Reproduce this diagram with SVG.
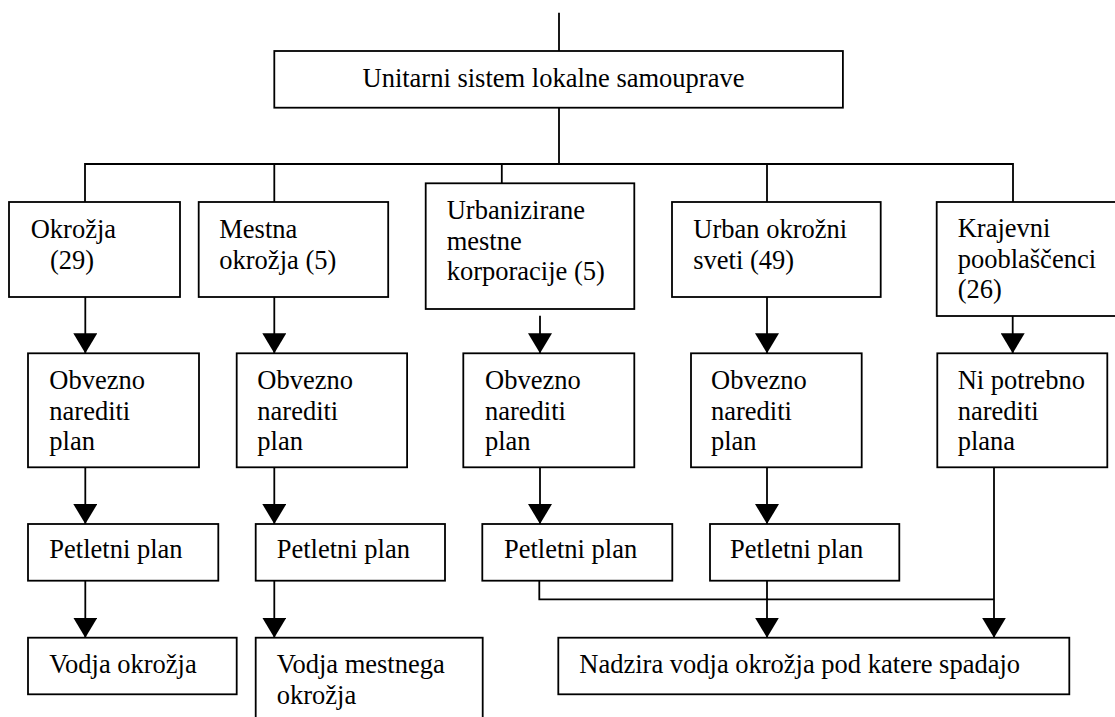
<svg xmlns="http://www.w3.org/2000/svg" width="1115" height="717" viewBox="0 0 1115 717" font-family="'Liberation Serif', 'DejaVu Serif', 'Times New Roman', serif">
  <style>
    .box { fill: #fff; stroke: #000; stroke-width: 1.8; }
    text { font-family: 'Liberation Serif', 'DejaVu Serif', 'Times New Roman', serif; font-size: 26.5px; fill: #000; }
    .wire { fill: none; stroke: #000; stroke-width: 1.8; }
    .arr { fill: none; stroke: #000; stroke-width: 1.8; marker-end: url(#head); }
  </style>
  <defs>
    <marker id="head" markerUnits="userSpaceOnUse" markerWidth="20" markerHeight="24" refX="20" refY="12" orient="auto" viewBox="0 0 20 24">
      <path d="M0,0 L20,12 L0,24 Z" fill="#000"/>
    </marker>
  </defs>
  <rect width="1115" height="717" fill="#fff"/>

  <!-- connectors -->
  <g id="connectors">
    <path class="wire" d="M559,12.7 V51"/>
    <path class="wire" d="M559,107.7 V164 M85,202 V164 H1013 V202 M274.3,164 V202 M501.8,164 V183.3 M767,164 V202"/>
    <!-- level 1 to plan requirement -->
    <path class="arr" d="M85.3,297 V353.3"/>
    <path class="arr" d="M274.3,297 V353.3"/>
    <path class="arr" d="M540,315.7 V353.3"/>
    <path class="arr" d="M767,297 V353.3"/>
    <path class="arr" d="M1012.7,316 V353.3"/>
    <!-- plan requirement to five-year plan -->
    <path class="arr" d="M85.3,467.3 V524"/>
    <path class="arr" d="M274.3,467.3 V524"/>
    <path class="arr" d="M540,467.3 V524"/>
    <path class="arr" d="M767,467.3 V524"/>
    <!-- five-year plan to supervision -->
    <path class="arr" d="M85.3,580.7 V637.7"/>
    <path class="arr" d="M274.3,580.7 V637.7"/>
    <path class="wire" d="M539.3,580.7 V599.3 H994"/>
    <path class="arr" d="M767,580.7 V637.7"/>
    <path class="arr" d="M994,467.3 V637.7"/>
  </g>

  <g id="root">
    <rect class="box" x="274.3" y="51" width="568.6" height="56.7"/>
    <text x="362.5" y="87.3">Unitarni sistem lokalne samouprave</text>
  </g>

  <g id="okrozja">
    <rect class="box" x="9" y="202" width="171" height="95"/>
    <text x="30.7" y="237.5">Okrožja</text>
    <text x="50" y="269.3">(29)</text>
  </g>
  <g id="mestna-okrozja">
    <rect class="box" x="198.7" y="202" width="189.5" height="95"/>
    <text x="219.3" y="237.5">Mestna</text>
    <text x="219.3" y="269.3">okrožja (5)</text>
  </g>
  <g id="urbanizirane">
    <rect class="box" x="425.7" y="183.3" width="208.6" height="125.7"/>
    <text x="446.7" y="219.3">Urbanizirane</text>
    <text x="446.7" y="249.5">mestne</text>
    <text x="446.7" y="280">korporacije (5)</text>
  </g>
  <g id="urban-sveti">
    <rect class="box" x="672" y="202" width="208.7" height="95"/>
    <text x="693.3" y="237.5">Urban okrožni</text>
    <text x="693.3" y="269.3">sveti (49)</text>
  </g>
  <g id="krajevni">
    <rect class="box" x="936.7" y="202" width="180" height="114"/>
    <text x="957.7" y="237">Krajevni</text>
    <text x="957.7" y="267.7">pooblaščenci</text>
    <text x="957.7" y="298.3">(26)</text>
  </g>

  <g id="obvezno-1">
    <rect class="box" x="28" y="353.3" width="171" height="114"/>
    <text x="49.3" y="389.3">Obvezno</text>
    <text x="49.3" y="419.5">narediti</text>
    <text x="49.3" y="449.5">plan</text>
  </g>
  <g id="obvezno-2">
    <rect class="box" x="236.7" y="353.3" width="170.4" height="114"/>
    <text x="257.3" y="389.3">Obvezno</text>
    <text x="257.3" y="419.5">narediti</text>
    <text x="257.3" y="449.5">plan</text>
  </g>
  <g id="obvezno-3">
    <rect class="box" x="463.3" y="353.3" width="171" height="114"/>
    <text x="485" y="389.3">Obvezno</text>
    <text x="485" y="419.5">narediti</text>
    <text x="485" y="449.5">plan</text>
  </g>
  <g id="obvezno-4">
    <rect class="box" x="691" y="353.3" width="170.7" height="114"/>
    <text x="711" y="389.3">Obvezno</text>
    <text x="711" y="419.5">narediti</text>
    <text x="711" y="449.5">plan</text>
  </g>
  <g id="ni-potrebno">
    <rect class="box" x="937.3" y="353.3" width="170" height="114"/>
    <text x="957.7" y="389.3">Ni potrebno</text>
    <text x="957.7" y="419.5">narediti</text>
    <text x="957.7" y="449.5">plana</text>
  </g>

  <g id="petletni-1">
    <rect class="box" x="28" y="524" width="190.3" height="56.7"/>
    <text x="49.3" y="558.3">Petletni plan</text>
  </g>
  <g id="petletni-2">
    <rect class="box" x="255.7" y="524" width="189.3" height="56.7"/>
    <text x="276.7" y="558.3">Petletni plan</text>
  </g>
  <g id="petletni-3">
    <rect class="box" x="482.3" y="524" width="190" height="56.7"/>
    <text x="504" y="558.3">Petletni plan</text>
  </g>
  <g id="petletni-4">
    <rect class="box" x="710" y="524" width="189.3" height="56.7"/>
    <text x="730" y="558.3">Petletni plan</text>
  </g>

  <g id="vodja-okrozja">
    <rect class="box" x="28" y="637.7" width="208.7" height="56.6"/>
    <text x="49.3" y="673.3">Vodja okrožja</text>
  </g>
  <g id="vodja-mestnega">
    <rect class="box" x="255.7" y="637.7" width="227" height="90"/>
    <text x="276.7" y="673.3">Vodja mestnega</text>
    <text x="276.7" y="704">okrožja</text>
  </g>
  <g id="nadzira">
    <rect class="box" x="558.3" y="637.7" width="511" height="56.6"/>
    <text x="579.3" y="673.3">Nadzira vodja okrožja pod katere spadajo</text>
  </g>
</svg>
